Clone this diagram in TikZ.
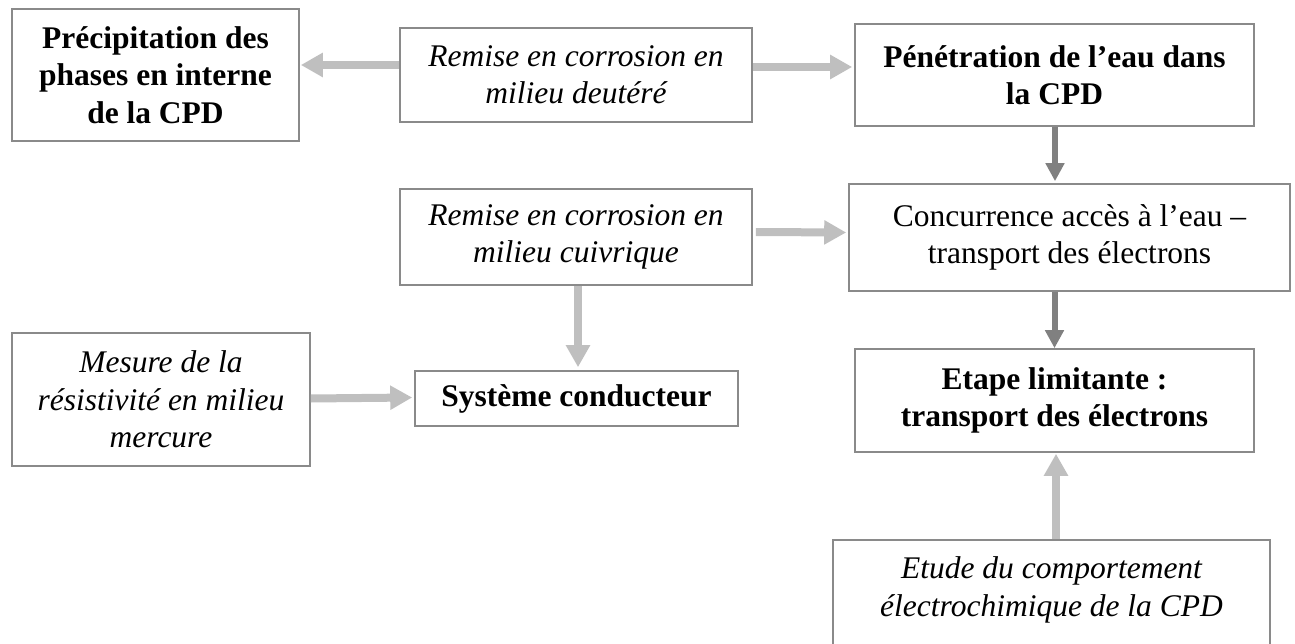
\documentclass[tikz,border=0pt]{standalone}
\usepackage{fontspec}
\setmainfont{Liberation Serif}
\usetikzlibrary{arrows.meta}
\definecolor{boxline}{HTML}{8A8A8A}
\definecolor{lightarrow}{HTML}{BFBFBF}
\definecolor{darkarrow}{HTML}{808080}
\begin{document}
\begin{tikzpicture}[x=1pt,y=-1pt,
  box/.style={draw=boxline, line width=1.6pt, rectangle, inner sep=0pt, align=center,
    font=\fontsize{31.5}{37.5}\selectfont},
  bbox/.style={box, font=\fontsize{31.5}{37.5}\selectfont\bfseries},
  ibox/.style={box, font=\fontsize{31.5}{37.5}\selectfont\itshape},
  larrow/.style={draw=lightarrow, line width=8pt, -{Triangle[length=22pt,width=23pt]}, color=lightarrow},
  darrow/.style={draw=darkarrow, line width=6pt, -{Triangle[length=18pt,width=18pt]}, color=darkarrow}]
\useasboundingbox (0,0) rectangle (1295,644);

\node[bbox, minimum width=287pt, minimum height=132pt] (prec) at (155.5,75)
  {Précipitation des\\phases en interne\\de la CPD};
\node[ibox, minimum width=352pt, minimum height=94pt] (remD) at (576,75)
  {Remise en corrosion en\\milieu deutéré};
\node[bbox, minimum width=399pt, minimum height=102pt] (pen) at (1054.5,75)
  {Pénétration de l’eau dans\\la CPD};
\node[ibox, minimum width=352pt, minimum height=96pt] (remC) at (576,237)
  {Remise en corrosion en\\milieu cuivrique};
\node[box, minimum width=441pt, minimum height=107pt] (conc) at (1069.5,237.5)
  {Concurrence accès à l’eau –\\transport des électrons};
\node[ibox, minimum width=298pt, minimum height=133pt] (mes) at (161,399.5)
  {Mesure de la\\résistivité en milieu\\mercure};
\node[bbox, minimum width=323pt, minimum height=55pt] (sys) at (576.5,398.5)
  {Système conducteur};
\node[bbox, minimum width=399pt, minimum height=103pt] (etape) at (1054.5,400.5)
  {Etape limitante :\\transport des électrons};
\node[box, minimum width=437pt, minimum height=140pt, anchor=north] (etude) at (1051.5,539) {};
\node[font=\fontsize{31.5}{37.5}\selectfont\itshape, align=center, inner sep=0pt] (etudetxt) at (1051.5,590)
  {Etude du comportement\\électrochimique de la CPD};

\draw[larrow] ([yshift=10pt]remD.west) -- ([xshift=1pt,yshift=10pt]prec.east);
\draw[larrow] ([yshift=8pt]remD.east) -- ([xshift=-2pt,yshift=8pt]pen.west);
\draw[darrow] (pen.south -| 1055,0) -- ([yshift=2pt]conc.north -| 1055,0);
\draw[larrow] ([xshift=3pt,yshift=5pt]remC.east) -- ([xshift=-2pt,yshift=5pt]conc.west);
\draw[larrow] (remC.south -| 578,0) -- ([yshift=3pt]sys.north -| 578,0);
\draw[larrow] ([yshift=1pt]mes.east) -- ([xshift=-2pt,yshift=1pt]sys.west);
\draw[darrow] (conc.south -| etape.north) -- (etape.north);
\draw[larrow] (etude.north -| 1056,0) -- ([yshift=-1pt]etape.south -| 1056,0);
\end{tikzpicture}
\end{document}
